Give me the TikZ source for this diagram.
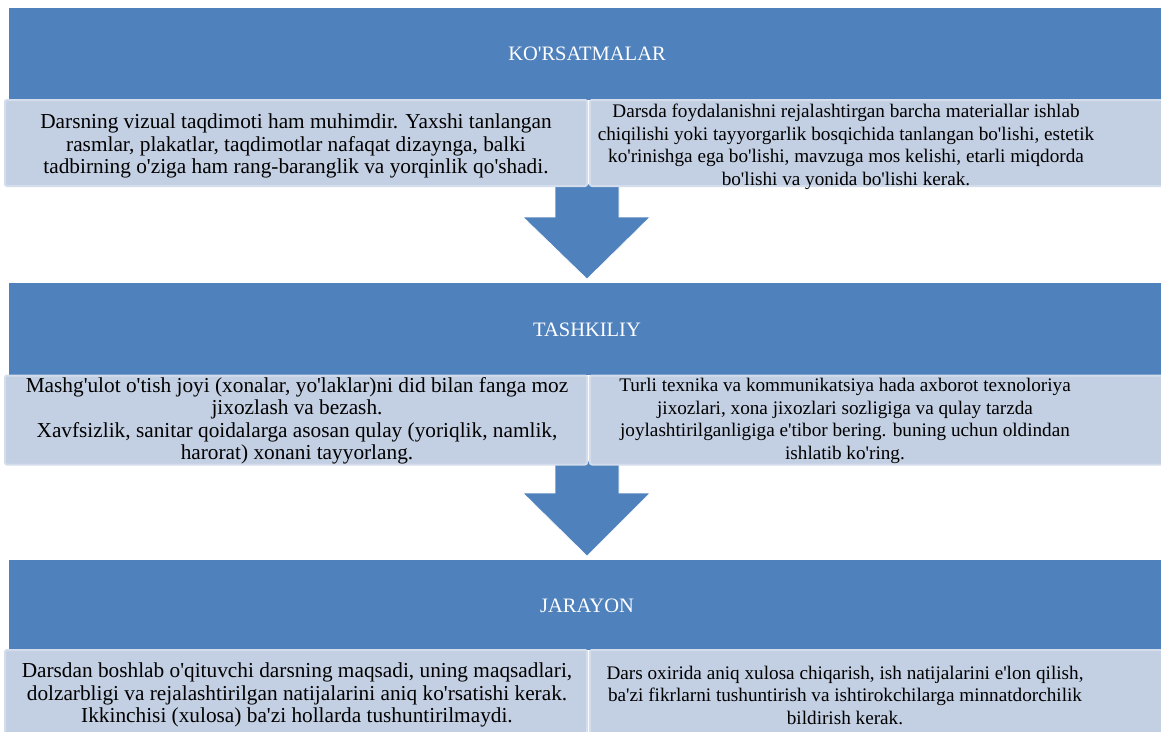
\documentclass[tikz,border=0pt]{standalone}
\usepackage{fontspec}
\setmainfont{Liberation Serif}[Ligatures=TeXOff]
\definecolor{band}{RGB}{79,129,189}
\definecolor{lite}{RGB}{195,207,226}
\definecolor{liteedge}{RGB}{212,221,235}
\begin{document}
\begin{tikzpicture}[x=1pt,y=-1pt,
  bandbox/.style={fill=band, draw=none, inner sep=0pt, outer sep=0pt, text=white,
    font=\fontsize{20.5}{22.5}\selectfont},
  litebox/.style={fill=lite, draw=liteedge, line width=2pt, rounded corners=2pt, inner sep=0pt, outer sep=0pt},
  lefttext/.style={align=center, inner sep=0pt, font=\fontsize{21.3}{22.5}\selectfont},
  righttext/.style={align=center, inner sep=0pt, font=\fontsize{19.2}{22.5}\selectfont},
  blockarrow/.style={fill=band, draw=white, line width=0.6pt}
]
\useasboundingbox (0,0) rectangle (1161,731);
\fill[white] (0,0) rectangle (1161,731);

% block arrows (behind boxes)
\fill[blockarrow] (555,184) -- (619,184) -- (619,217) -- (650,217) -- (587,279) -- (523,217) -- (555,217) -- cycle;
\fill[blockarrow] (555,461) -- (619,461) -- (619,493) -- (650,493) -- (587,556) -- (523,493) -- (555,493) -- cycle;

% bands
\node[bandbox, minimum width=1160pt, minimum height=92pt] (b1) at (589,54) {};
\node[bandbox] (t1) at (587,54) {KO'RSATMALAR};
\node[bandbox, minimum width=1160pt, minimum height=92pt] (b2) at (589,329) {};
\node[bandbox] (t2) at (587,330) {TASHKILIY};
\node[bandbox, minimum width=1160pt, minimum height=90pt] (b3) at (589,605) {};
\node[bandbox] (t3) at (587,606) {JARAYON};

% row 1
\node[litebox, minimum width=582pt, minimum height=86pt] (l1box) at (296,143) {};
\node[litebox, minimum width=600pt, minimum height=86pt] (r1box) at (890,143) {};
\node[lefttext] (l1) at (296,146) {Darsning vizual taqdimoti ham muhimdir. Yaxshi tanlangan\\
rasmlar, plakatlar, taqdimotlar nafaqat dizaynga, balki\\
tadbirning o'ziga ham rang-baranglik va yorqinlik qo'shadi.};
\node[righttext] (r1) at (846,147) {Darsda foydalanishni rejalashtirgan barcha materiallar ishlab\\
chiqilishi yoki tayyorgarlik bosqichida tanlangan bo'lishi, estetik\\
ko'rinishga ega bo'lishi, mavzuga mos kelishi, etarli miqdorda\\
bo'lishi va yonida bo'lishi kerak.};

% row 2
\node[litebox, minimum width=582pt, minimum height=89pt] (l2box) at (296,420) {};
\node[litebox, minimum width=600pt, minimum height=89pt] (r2box) at (890,420) {};
\node[lefttext] (l2) at (297,421) {Mashg'ulot o'tish joyi (xonalar, yo'laklar)ni did bilan fanga moz\\
jixozlash va bezash.\\
Xavfsizlik, sanitar qoidalarga asosan qulay (yoriqlik, namlik,\\
harorat) xonani tayyorlang.};
\node[righttext] (r2) at (845,421) {Turli texnika va kommunikatsiya hada axborot texnoloriya\\
jixozlari, xona jixozlari sozligiga va qulay tarzda\\
joylashtirilganligiga e'tibor bering. buning uchun oldindan\\
ishlatib ko'ring.};

% row 3
\node[litebox, minimum width=582pt, minimum height=96pt] (l3box) at (296,698) {};
\node[litebox, minimum width=600pt, minimum height=96pt] (r3box) at (890,698) {};
\node[lefttext] (l3) at (297,695) {Darsdan boshlab o'qituvchi darsning maqsadi, uning maqsadlari,\\
dolzarbligi va rejalashtirilgan natijalarini aniq ko'rsatishi kerak.\\
Ikkinchisi (xulosa) ba'zi hollarda tushuntirilmaydi.};
\node[righttext] (r3) at (845,695) {Dars oxirida aniq xulosa chiqarish, ish natijalarini e'lon qilish,\\
ba'zi fikrlarni tushuntirish va ishtirokchilarga minnatdorchilik\\
bildirish kerak.};
\end{tikzpicture}
\end{document}
